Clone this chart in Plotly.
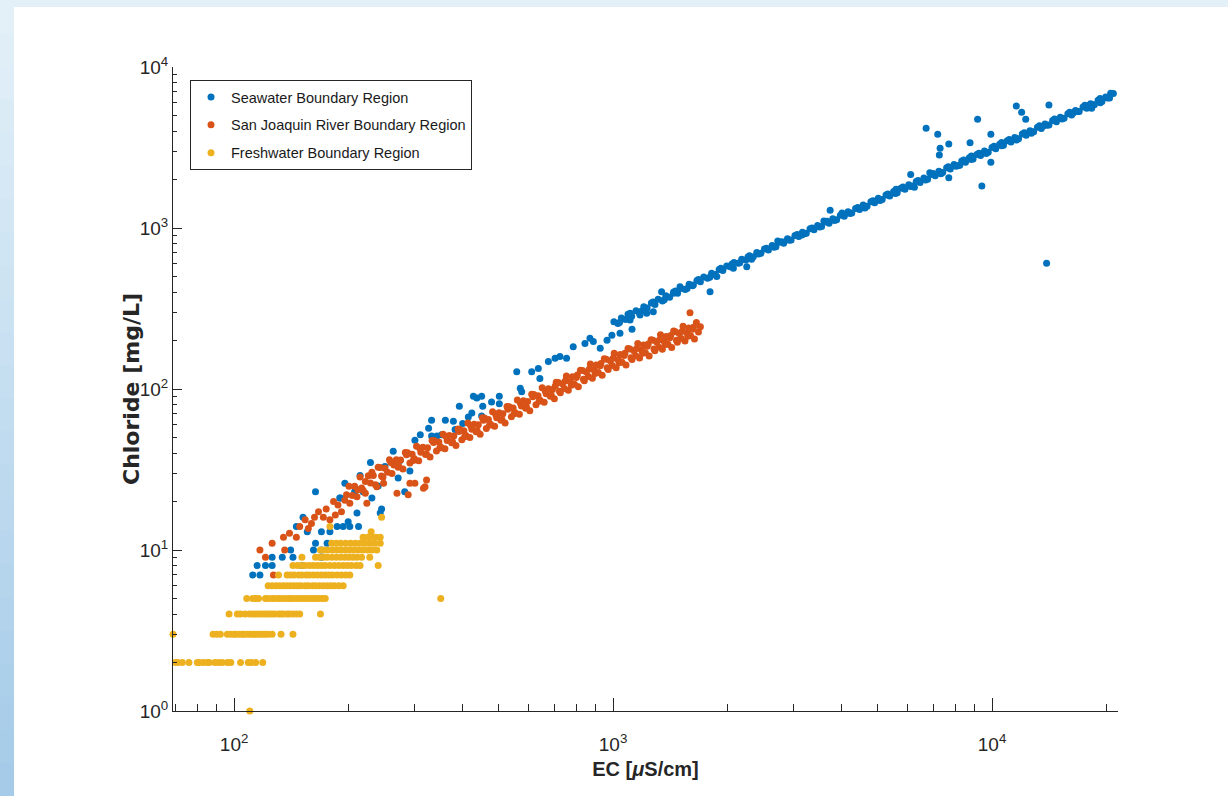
import plotly.graph_objects as go

# ---------------- data ----------------
# Seawater Boundary Region: EC [uS/cm], Chloride [mg/L]
sea_ec = [112, 117, 115, 121, 126, 126, 134, 141, 143, 151, 162, 170, 170, 164, 176, 179, 187, 194, 200, 191,
          164, 152, 156, 170, 146, 202, 211, 213, 245, 243, 231, 219,
          190, 208, 229, 250, 263, 274, 300, 310, 326, 332, 332, 343, 353, 361, 379, 383, 393, 401, 415, 424,
          428, 437, 450, 453, 450, 478, 501, 501, 557, 569, 574, 610, 635, 641, 675, 703, 724, 754, 785, 843,
          869, 887, 925, 964, 993, 1043, 1109, 1122, 1178, 1227, 1277, 1343, 1386, 1443, 1502, 1629, 1803,
          1878, 2077, 2253, 196, 215, 240, 271, 282, 291,
          1005, 1030, 1052, 1078, 1095, 1120, 1150, 1172, 1205, 1230, 1262, 1290, 1315, 1350, 1378, 1410, 1445,
          1480, 1512, 1550, 1588, 1620, 1665, 1700, 1735, 1775, 1820, 1860, 1905, 1948, 1995, 2040, 2085, 2140,
          2185, 2240, 2290, 2345, 2395, 2455, 2510, 2570, 2630, 2690, 2755, 2820, 2885, 2950, 3020, 3090, 3160,
          3235, 3310, 3390, 3465, 3550, 3630, 3715, 3800, 3890, 3980, 4075, 4170, 4265, 4365, 4470, 4570, 4680,
          4790, 4900, 5010, 5130, 5250, 5370, 5500, 5620, 5750, 5890, 6030, 6170, 6310, 6460, 6610, 6760, 6920,
          7080, 7240, 7410, 7590, 7760, 7940, 8130, 8320, 8510, 8710, 8910, 9120, 9330, 9550, 9770, 10000,
          10230, 10470, 10720, 10970, 11220, 11480, 11750, 12020, 12300, 12590, 12880, 13180, 13490, 13800,
          14130, 14450, 14790, 15140, 15490, 15850, 16220, 16600, 16980, 17380, 17780, 18200, 18620, 19050,
          19500, 19950, 20420, 20900, 21500, 20560,
          2320, 2720, 3150, 3600, 4020, 4620, 5060, 5580, 6240, 6850, 7330, 8220, 8820, 9650, 10600, 11600,
          12700, 13650, 15300, 16400, 17900, 19300,
          2060, 2160, 2270, 2420, 2540, 2660, 2790, 2920, 3060, 3200, 3350, 3510, 3670, 3840, 4030, 4220, 4420,
          4630, 4850, 5070, 5310, 5560, 5820, 6100, 6380, 6680, 7000, 7330, 7670, 8030, 8420, 8810, 9230, 9660,
          10120, 10600, 11100, 11620, 12170, 12740, 13340, 13970, 14620, 15310, 16030, 16790, 17580, 18410,
          19280, 20180,
          1040, 1110, 1190, 1275, 1365, 1462, 1568, 1680, 1800, 1925,
          6700, 7190, 7295, 7260, 7690, 7690, 9160, 9400, 9930, 9930, 11590, 11970, 12270, 14130, 13930, 18320,
          8750, 6100, 3740]
sea_cl = [7, 7, 8, 8, 8, 9, 9, 10, 9, 8, 10, 10, 9, 11, 11, 13, 14, 14, 15, 21,
          23, 16, 13, 13, 14, 14, 17, 14, 18, 17, 21, 23,
          21, 23, 35, 33, 41, 36, 48, 52, 57, 64, 51, 51, 52, 64, 63, 56, 78, 61, 67, 71,
          90, 88, 90, 78, 68, 83, 90, 81, 128, 101, 96, 128, 134, 116, 148, 155, 159, 155, 183, 192,
          207, 197, 179, 201, 216, 222, 268, 235, 288, 295, 302, 402, 374, 393, 432, 443, 402,
          499, 562, 575, 26, 29, 25, 28, 23, 31,
          262, 255, 276, 270, 291, 283, 306, 298, 324, 318, 342, 335, 361, 352, 379, 371, 400,
          394, 421, 415, 447, 438, 472, 464, 497, 488, 523, 515, 552, 545, 580, 574, 610, 603,
          640, 632, 672, 662, 704, 696, 741, 729, 778, 765, 816, 804, 857, 843, 899, 886, 942,
          928, 990, 975, 1038, 1022, 1090, 1072, 1143, 1125, 1200, 1181, 1262, 1239, 1322, 1302, 1388, 1366,
          1458, 1434, 1528, 1505, 1605, 1580, 1686, 1655, 1768, 1740, 1856, 1826, 1948, 1915, 2045, 2010, 2146,
          2108, 2250, 2212, 2365, 2322, 2480, 2438, 2604, 2558, 2732, 2684, 2866, 2818, 3008, 2957, 3158,
          3104, 3313, 3261, 3480, 3420, 3650, 3590, 3830, 3768, 4020, 3955, 4218, 4152, 4428,
          4360, 4646, 4573, 4880, 4800, 5120, 5038, 5376, 5286, 5641, 5548, 5920, 5824, 6210,
          6113, 6520, 6420, 6840, 7800, 6870,
          640, 830, 905, 1105, 1240, 1330, 1480, 1740, 1790, 2200, 2170, 2450, 2800, 2900, 3400, 3520,
          3880, 4300, 4750, 5200, 5750, 6000,
          598, 609, 660, 689, 748, 760, 822, 838, 910, 921, 1000, 1015, 1101, 1114, 1215, 1230, 1340,
          1355, 1478, 1490, 1628, 1640, 1795, 1810, 1975, 1990, 2180, 2195, 2400, 2418, 2645, 2665, 2915, 2940,
          3215, 3245, 3545, 3575, 3910, 3945, 4310, 4350, 4750, 4795, 5240, 5290, 5780, 5830,
          6370, 6430,
          259, 295, 305, 347, 358, 406, 421, 478, 495, 562,
          4160, 3820, 3126, 2838, 3327, 2051, 4732, 1824, 3820, 2559, 5728, 5236, 4732, 5808, 604, 5534,
          3390, 2153, 1290]

# San Joaquin River Boundary Region
sjr_ec = [117, 121, 127, 126, 135, 136, 140, 146, 149, 154, 157, 160, 167, 172, 179, 192, 196, 202, 211, 222,
          224, 238, 248, 269, 288, 300, 319, 291, 322, 316, 163, 175, 185, 188, 198, 183,
          201, 205, 208, 212, 215, 219, 222, 226, 229, 233, 236, 240, 243, 247, 250, 254, 257, 261, 264, 268,
          271, 275, 279, 283, 287, 291, 295, 299, 303, 307, 311, 315, 320, 324, 329, 333, 338, 342, 347, 351,
          356, 360, 365, 370, 375, 380, 385, 390, 394, 399, 404, 409, 414, 419, 424, 430, 435, 441, 446, 452,
          458, 463, 469, 475, 481, 487, 493, 500, 506, 512, 519, 525, 532, 539, 545, 552, 559, 566, 573, 580,
          588, 595, 603, 610, 618, 626, 634, 642, 650, 658, 666, 675, 683, 692, 700, 708, 717, 726, 735, 744,
          753, 762, 772, 781, 791, 800, 810, 820, 830, 840, 850, 861, 871, 882, 892, 903, 914, 925, 936, 948,
          959, 971, 983, 995, 1007, 1019, 1031, 1044, 1056, 1069, 1082, 1095, 1108, 1122, 1135, 1148, 1162,
          1175, 1189, 1203, 1217, 1231, 1245, 1260, 1274, 1289, 1304, 1319, 1334, 1349, 1365, 1380, 1396,
          1412, 1428, 1445, 1461, 1478, 1495, 1513, 1530, 1548, 1566, 1584, 1602, 1621, 1640, 1659, 1700, 1596,
          217, 231, 245, 259, 272, 285, 297, 309, 322, 336, 349, 362, 377, 392, 406, 421, 438, 455, 472, 490,
          509, 528, 548, 569, 591, 614, 638, 662, 687, 704, 722, 748, 776, 805, 835, 866, 897, 929, 965, 1000,
          1037, 1075, 1115, 1155, 1196, 1238, 1282, 1327, 1372, 1420, 1470, 1522, 1575, 1630, 1680]
sjr_cl = [10, 9, 7, 11, 12, 10, 12.7, 12, 14, 15.4, 13.6, 14.6, 17.3, 16, 15.4, 17.3, 20.4, 19.5, 21.4, 22.5,
          19.5, 24.7, 26, 22.5, 22, 26, 24.7, 26, 27.2, 24.2, 16, 18, 16.5, 19, 22, 20,
          24.9, 21.8, 24.9, 23.7, 28.4, 23.5, 26.6, 28.9, 26.1, 29.0, 25.4, 32.6, 32.5, 28.3, 32.2, 30.4, 36.4,
          29.9, 33.7, 36.4, 32.7, 36.2, 31.8, 40.3, 40.2, 34.7, 39.4, 36.9, 44.1, 35.9, 40.5, 43.5, 39.2, 43.1,
          37.8, 47.9, 47.7, 41.2, 46.9, 43.7, 52.3, 42.5, 47.9, 51.5, 46.3, 51.0, 44.6, 56.5, 56.1, 48.4, 55.0,
          51.4, 61.4, 50.0, 56.2, 60.5, 54.3, 59.9, 52.3, 66.3, 66.0, 56.9, 64.6, 60.4, 72.2, 58.8, 66.2, 71.2,
          64.0, 70.3, 61.5, 77.9, 77.7, 67.2, 76.2, 71.3, 85.3, 69.6, 78.5, 84.4, 76.0, 83.6, 73.3, 92.8, 92.4,
          79.9, 90.8, 85.0, 101.7, 82.8, 93.3, 100.4, 90.2, 99.3, 86.9, 110.0, 109.6, 94.8, 107.7, 100.8, 120.5,
          98.2, 110.8, 119.0, 107.2, 117.8, 103.1, 130.8, 130.2, 112.5, 127.7, 119.5, 142.8, 116.5, 131.1,
          140.9, 126.7, 139.4, 121.8, 154.2, 153.3, 132.1, 149.8, 139.8, 166.9, 135.6, 152.5, 163.7, 146.8,
          161.3, 140.9, 178.2, 177.0, 152.7, 172.7, 160.9, 191.9, 155.7, 174.8, 187.3, 167.8, 184.0, 160.3,
          202.6, 200.9, 173.0, 195.7, 182.4, 217.2, 176.3, 198.0, 212.0, 189.9, 208.1, 181.3, 228.9, 226.9,
          195.3, 220.8, 205.8, 245.0, 198.9, 223.3, 239.0, 214.1, 234.7, 204.6, 258.4, 244, 298,
          24.3, 30.4, 28.8, 35.0, 33.1, 39.0, 36.0, 42.8, 39.5, 46.5, 43.0, 50.8, 47.0, 54.5, 50.5, 59.2, 55.0,
          64.0, 59.5, 69.5, 64.7, 74.8, 70.2, 82.0, 77.0, 89.5, 84.0, 97.5, 91.5, 104.5, 97.0, 112.0, 105.5,
          122.0, 115.0, 133.0, 125.0, 144.0, 135.5, 155.0, 145.5, 167.0, 156.5, 178.5, 167.0, 190.0, 177.5,
          202.0, 189.0, 215.0, 200.5, 228.0, 213.0, 242.0, 226.0]

# Freshwater Boundary Region: EC readings on each chloride level
fresh_ec_cl1 = [110]
fresh_ec_cl2 = [70, 71, 73, 76, 80, 81, 83, 85, 86, 89, 91, 93, 96, 98, 104, 109, 111, 114, 119]
fresh_ec_cl3 = [69, 88, 90, 92, 96, 98, 100, 101, 103, 105, 106, 108, 110, 112, 113, 115, 117, 119, 121,
                123, 126, 133, 143]
fresh_ec_cl4 = [97, 102, 104, 107, 110, 112, 114, 116, 118, 120, 122, 124, 126, 128, 131, 133, 135, 138,
                140, 143, 146, 149, 169]
fresh_ec_cl5 = [108, 112, 114, 116, 121, 123, 126, 128, 131, 133, 136, 139, 141, 144, 147, 150, 153, 156,
                159, 162, 165, 168, 171, 174, 351]
fresh_ec_cl6 = [123, 126, 129, 132, 135, 138, 141, 144, 147, 150, 154, 157, 161, 164, 168, 172, 176, 180,
                184, 189, 194]
fresh_ec_cl7 = [131, 138, 141, 144, 148, 151, 155, 158, 162, 166, 170, 174, 178, 182, 187, 192, 197, 202]
fresh_ec_cl8 = [143, 147, 151, 154, 158, 162, 166, 170, 174, 179, 184, 189, 194, 199, 204, 210, 215, 240]
fresh_ec_cl9 = [151, 164, 168, 172, 176, 181, 186, 191, 196, 201, 206, 211, 217, 228]
fresh_ec_cl10 = [169, 173, 177, 182, 187, 192, 197, 202, 207, 213, 219, 225, 231, 238]
fresh_ec_cl11 = [181, 186, 191, 197, 203, 209, 215, 221, 228, 235, 243]
fresh_ec_cl12 = [219, 225, 231, 237, 243]
fresh_extra_ec = [230, 179, 245]
fresh_extra_cl = [13, 14, 16]

series_names = ["Seawater Boundary Region", "San Joaquin River Boundary Region", "Freshwater Boundary Region"]
series_colors = ["#0072BD", "#D95319", "#EDB120"]

x_tickvals = [100, 1000, 10000]
x_ticktext = ["10<sup>2</sup>", "10<sup>3</sup>", "10<sup>4</sup>"]
y_tickvals = [1, 10, 100, 1000, 10000]
y_ticktext = ["10<sup>0</sup>", "10<sup>1</sup>", "10<sup>2</sup>", "10<sup>3</sup>", "10<sup>4</sup>"]
x_title = "EC [<i>μ</i>S/cm]"
y_title = "Chloride [mg/L]"

# ---------------- assemble ----------------
fresh_levels = [(1, fresh_ec_cl1), (2, fresh_ec_cl2), (3, fresh_ec_cl3), (4, fresh_ec_cl4), (5, fresh_ec_cl5),
                (6, fresh_ec_cl6), (7, fresh_ec_cl7), (8, fresh_ec_cl8), (9, fresh_ec_cl9), (10, fresh_ec_cl10),
                (11, fresh_ec_cl11), (12, fresh_ec_cl12)]
fresh_ec, fresh_cl = [], []
for lvl, ecs in fresh_levels:
    fresh_ec += ecs
    fresh_cl += [lvl] * len(ecs)
fresh_ec += fresh_extra_ec
fresh_cl += fresh_extra_cl

W, H = 1228, 796
L, R, T, B = 173, 1118, 67, 711   # plot-area pixel box

FONT = "Liberation Sans Narrow, Arial Narrow, Liberation Sans, Arial, sans-serif"
INK = "#262626"

fig = go.Figure()
for i, (xs, ys) in enumerate([(sea_ec, sea_cl), (sjr_ec, sjr_cl), (fresh_ec, fresh_cl)]):
    fig.add_trace(go.Scatter(
        x=xs, y=ys, mode="markers", name=series_names[i],
        legendgroup=f"g{i}",
        marker=dict(color=series_colors[i], size=7, line=dict(width=0)),
        cliponaxis=False,
    ))


def px_x(p):
    return (p - L) / (R - L)


def px_y(p):
    return (B - p) / (B - T)


shapes = []
# light-blue slide frame: top strip and a vertical gradient strip on the left
shapes.append(dict(type="rect", xref="paper", yref="paper", x0=px_x(0), x1=px_x(W), y0=px_y(7), y1=px_y(0),
                   fillcolor="#e3f0f8", line=dict(width=0), layer="below"))
nb = 24
c0 = (0xE3, 0xF0, 0xF8)
c1 = (0xA5, 0xCB, 0xE8)
for k in range(nb):
    t = k / (nb - 1)
    col = "rgb(%d,%d,%d)" % tuple(round(c0[j] + (c1[j] - c0[j]) * t) for j in range(3))
    shapes.append(dict(type="rect", xref="paper", yref="paper", x0=px_x(0), x1=px_x(14),
                       y0=px_y(H * (k + 1) / nb + 1), y1=px_y(H * k / nb),
                       fillcolor=col, line=dict(width=0), layer="below"))

minor_x = [v * m for v in (10, 100, 1000, 10000) for m in range(2, 10)]
minor_y = [v * m for v in (1, 10, 100, 1000) for m in range(2, 10)]

fig.update_layout(
    width=W, height=H,
    margin=dict(l=L, r=W - R, t=T, b=H - B, pad=0),
    paper_bgcolor="white", plot_bgcolor="white",
    shapes=shapes,
    showlegend=True,
    legend=dict(x=px_x(190), y=px_y(80), xanchor="left", yanchor="top",
                bgcolor="white", bordercolor=INK, borderwidth=1,
                font=dict(family=FONT, size=14.5, color="#1a1a1a"),
                traceorder="grouped", tracegroupgap=6, itemsizing="trace"),
    annotations=[dict(text=y_title, textangle=-90, xref="paper", yref="paper",
                      x=px_x(131), y=px_y(389), xanchor="center", yanchor="middle",
                      showarrow=False,
                      font=dict(family="DejaVu Sans, Liberation Sans, Arial, sans-serif", size=22,
                                color=INK, weight="bold"))],
    xaxis=dict(type="log", range=[1.8388, 4.3324], showgrid=False, zeroline=False,
               showline=True, linecolor=INK, linewidth=1, mirror=False,
               ticks="inside", ticklen=13, tickwidth=1, tickcolor=INK,
               tickmode="array", tickvals=x_tickvals, ticktext=x_ticktext,
               ticklabelstandoff=16,
               tickfont=dict(family=FONT, size=19, color=INK),
               minor=dict(tickmode="array", tickvals=minor_x, ticks="inside", ticklen=7,
                          tickwidth=1, tickcolor=INK, showgrid=False),
               title=dict(text=x_title, standoff=8,
                          font=dict(family=FONT, size=20, color=INK, weight="bold"))),
    yaxis=dict(type="log", range=[0, 4], showgrid=False, zeroline=False,
               showline=True, linecolor=INK, linewidth=1, mirror=False,
               ticks="inside", ticklen=9, tickwidth=1, tickcolor=INK,
               tickmode="array", tickvals=y_tickvals, ticktext=y_ticktext,
               tickfont=dict(family=FONT, size=19, color=INK),
               minor=dict(tickmode="array", tickvals=minor_y, ticks="inside", ticklen=4,
                          tickwidth=1, tickcolor=INK, showgrid=False)),
)

fig.write_html("out.html")
